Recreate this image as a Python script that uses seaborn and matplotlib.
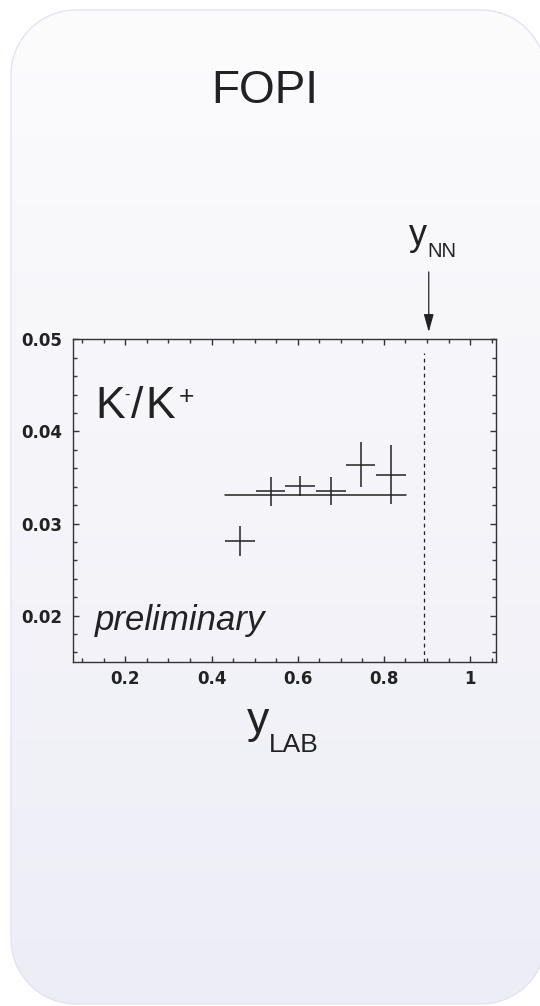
import numpy as np
import matplotlib
matplotlib.use("Agg")
import matplotlib.pyplot as plt
from matplotlib.patches import Polygon
from matplotlib.ticker import MultipleLocator, FuncFormatter
import seaborn as sns
import pandas as pd

# ---- data ----
y_lab = [0.466, 0.537, 0.605, 0.677, 0.746, 0.816]
ratio = [0.0281, 0.0335, 0.0341, 0.0335, 0.0364, 0.0353]
x_err = [0.034, 0.034, 0.034, 0.035, 0.034, 0.035]
y_err = [0.0016, 0.0016, 0.0011, 0.0015, 0.0024, 0.0032]
fit_x = [0.431, 0.851]
fit_y = [0.0331, 0.0331]
y_nn = 0.894
x_ticks = [0.2, 0.4, 0.6, 0.8, 1.0]
y_ticks = [0.02, 0.03, 0.04, 0.05]

sns.set_theme(style="ticks")
plt.rcParams['font.family'] = ['Liberation Sans', 'DejaVu Sans']

W, H = 540, 1006
fig = plt.figure(figsize=(W / 100, H / 100), dpi=100, facecolor="white")

def fx(px):
    return px / W

def fy(py):
    return 1 - py / H

# ---- background rounded gradient panel (pixel coords, y up) ----
bg = fig.add_axes([0, 0, 1, 1], zorder=-5)
bg.set_xlim(0, W)
bg.set_ylim(0, H)
bg.axis("off")
top_c = np.array([252, 252, 253]) / 255
bot_c = np.array([237, 237, 246]) / 255
t = np.linspace(0, 1, 256)[:, None]
grad = (top_c[None, :] * (1 - t) + bot_c[None, :] * t)[:, None, :]
im = bg.imshow(grad, extent=[0, W, 0, H], origin="upper", aspect="auto", zorder=0)

def rounded_rect(x0, y0, x1, y1, r, n=40):
    pts = []
    corners = [(x1 - r, y1 - r, 0), (x0 + r, y1 - r, 90),
               (x0 + r, y0 + r, 180), (x1 - r, y0 + r, 270)]
    for cx, cy, a0 in corners:
        ang = np.radians(np.linspace(a0, a0 + 90, n))
        pts.extend(zip(cx + r * np.cos(ang), cy + r * np.sin(ang)))
    return np.array(pts)

panel = Polygon(rounded_rect(11, H - 1004, 546, H - 10, 65), closed=True,
                facecolor="none", edgecolor="#e3e3f7", linewidth=1.0,
                transform=bg.transData, zorder=1)
bg.add_patch(panel)
im.set_clip_path(panel)

# ---- main axes ----
left, right, top, bottom = 72.7, 496, 339.3, 661.7
ax = fig.add_axes([fx(left), fy(bottom), (right - left) / W, (bottom - top) / H])
ax.set_facecolor("none")

ink = "#222222"
ax.errorbar(y_lab, ratio, xerr=x_err, yerr=y_err, fmt="none",
            ecolor=ink, elinewidth=1.1, capsize=0)
fit_df = pd.DataFrame({"x": fit_x, "y": fit_y})
sns.lineplot(data=fit_df, x="x", y="y", ax=ax, color=ink, linewidth=1.1)
ax.axvline(y_nn, ymin=0, ymax=0.957, color=ink, linewidth=0.9,
           linestyle=(0, (3, 3)))

ax.set_xlim(0.078, 1.06)
ax.set_ylim(0.015, 0.05)
ax.set_xticks(x_ticks)
ax.set_yticks(y_ticks)
ax.xaxis.set_minor_locator(MultipleLocator(0.05))
ax.yaxis.set_minor_locator(MultipleLocator(0.002))
ax.xaxis.set_major_formatter(FuncFormatter(lambda v, p: "1" if abs(v - 1) < 1e-9 else f"{v:.1f}"))
ax.yaxis.set_major_formatter(FuncFormatter(lambda v, p: f"{v:.2f}"))
ax.set_xlabel("")
ax.set_ylabel("")
ax.tick_params(which="both", direction="in", top=True, right=True,
               color="#333333", width=1.0)
ax.tick_params(which="major", length=4.5)
ax.tick_params(which="minor", length=2.6)
ax.tick_params(axis="y", pad=7.5)
ax.tick_params(axis="x", pad=6)
for lab in ax.get_xticklabels() + ax.get_yticklabels():
    lab.set_fontfamily("DejaVu Sans")
    lab.set_fontweight("bold")
    lab.set_fontsize(12)
    lab.set_color(ink)
for s in ax.spines.values():
    s.set_visible(True)
    s.set_color("#333333")
    s.set_linewidth(1.0)

# arrow to y_NN
ax.annotate("", xy=(0.904, 1.0226), xytext=(0.904, 1.209),
            xycoords=("data", "axes fraction"), textcoords=("data", "axes fraction"),
            arrowprops=dict(arrowstyle="-|>,head_length=0.9,head_width=0.25",
                            color=ink, lw=0.9, shrinkA=0, shrinkB=0),
            annotation_clip=False)

# ---- texts ----
fig.text(fx(265), fy(103), "FOPI", ha="center", va="baseline", fontsize=33, color=ink)

fig.text(fx(409), fy(245), "y", ha="left", va="baseline", fontsize=26, color=ink)
fig.text(fx(427), fy(257), "NN", ha="left", va="baseline", fontsize=14.5, color=ink)

fig.text(fx(247), fy(733), "y", ha="left", va="baseline", fontsize=32, color=ink)
fig.text(fx(269), fy(752), "LAB", ha="left", va="baseline", fontsize=19, color=ink)

fig.text(fx(95), fy(418.5), "K", ha="left", va="baseline", fontsize=32, color=ink)
fig.text(fx(124.5), fy(400), "-", ha="left", va="baseline", fontsize=12, color=ink)
fig.text(fx(131), fy(418.5), "/", ha="left", va="baseline", fontsize=32, color=ink)
fig.text(fx(145), fy(418.5), "K", ha="left", va="baseline", fontsize=32, color=ink)
fig.text(fx(179), fy(404), "+", ha="left", va="baseline", fontsize=19, color=ink)

fig.text(fx(95), fy(630), "preliminary", ha="left", va="baseline", fontsize=25,
         style="italic", color=ink)

fig.savefig("out.png", dpi=100, facecolor="white")
